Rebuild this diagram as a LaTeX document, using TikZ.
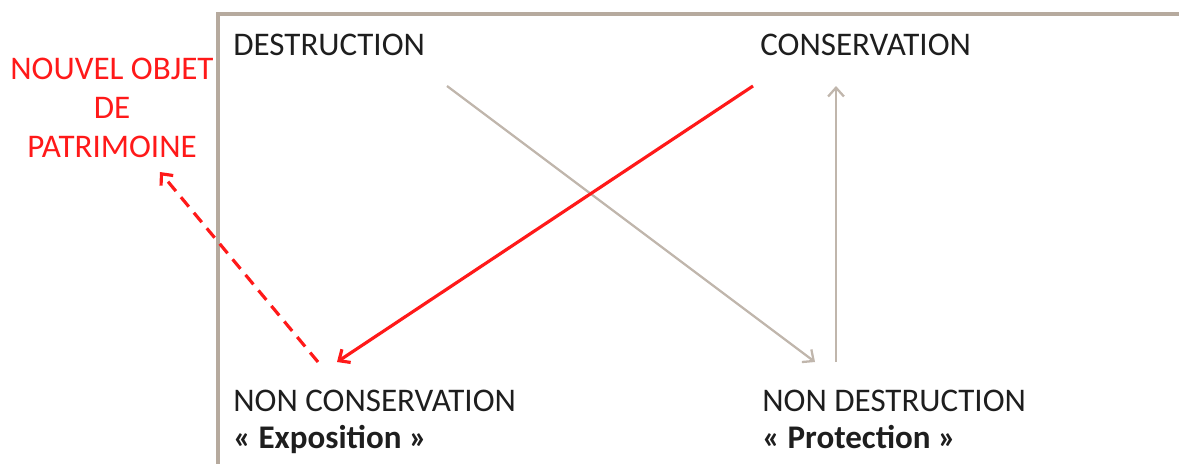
\documentclass[tikz,border=0pt]{standalone}
\usepackage{fontspec}
\setmainfont{Carlito}
\usetikzlibrary{arrows.meta}
\definecolor{framegray}{RGB}{182,170,158}
\definecolor{arrowgray}{RGB}{192,182,172}
\definecolor{patred}{RGB}{255,25,25}
\definecolor{textdark}{RGB}{30,30,30}

\begin{document}
\begin{tikzpicture}[
        x=0.02cm, y=-0.02cm,
        every node/.style={inner sep=0pt, text=textdark, font=\fontsize{18.8}{22.1}\selectfont},
        pole/.style={anchor=base west},
        link/.style={arrowgray, line width=1.3pt, -{Straight Barb[length=5pt,width=9pt]}},
        redlink/.style={patred, line width=1.8pt, -{Straight Barb[length=5pt,width=9pt]}}
    ]
    \useasboundingbox (0,0) rectangle (1179,464);
    \draw[framegray, line width=2pt] (1179,14) -- (218,14) -- (218,464);

    \node[pole] (destr) at (233,55) {DESTRUCTION};
    \node[pole] (cons) at (760,55) {CONSERVATION};
    \node[pole] (ncons) at (233,411) {NON CONSERVATION};
    \node[pole] (expo) at (233,448) {\bfseries « Exposition »};
    \node[pole] (ndestr) at (762,411) {NON DESTRUCTION};
    \node[pole] (prot) at (762,448) {\bfseries « Protection »};
    \node[text=patred, align=center, anchor=south] (nouvel) at (112,158)
        {NOUVEL OBJET\\DE\\PATRIMOINE};

    \draw[link] ([shift={(214,31)}]destr.base west)
        -- ([shift={(53,-49)}]ndestr.base west);
    \draw[link] ([shift={(74,-49)}]ndestr.base west)
        -- ([shift={(76,31)}]cons.base west);
    \draw[redlink] ([shift={(-7,31)}]cons.base west)
        -- ([shift={(104,-49)}]ncons.base west);
    \draw[redlink, dash pattern=on 7pt off 4.5pt] ([shift={(85,-49)}]ncons.base west)
        -- ([shift={(48,14)}]nouvel.south);
\end{tikzpicture}
\end{document}
